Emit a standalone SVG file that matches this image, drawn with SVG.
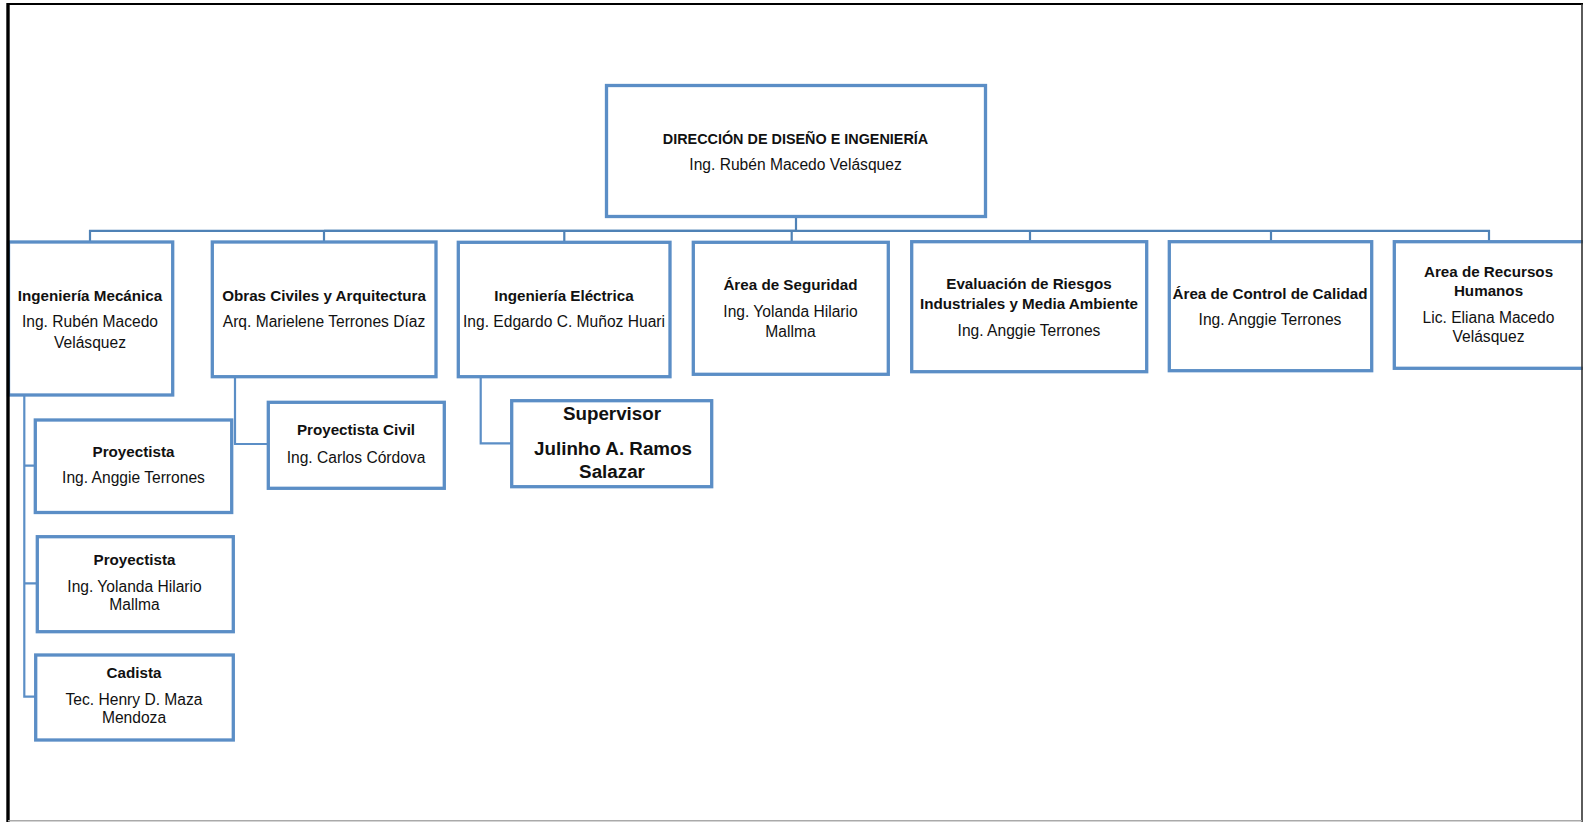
<svg xmlns="http://www.w3.org/2000/svg" width="1583" height="822" viewBox="0 0 1583 822">
<defs>
<style>
.box{fill:#fff;stroke:#5B8EC6;stroke-width:3.3}
.con{fill:none;stroke:#4F82B6;stroke-width:2.2}
.conl{fill:none;stroke:#5B8EC6;stroke-width:2.2}
text{font-family:"Liberation Sans",Arial,sans-serif;fill:#111;text-anchor:middle}
.b{font-weight:bold;font-size:15.2px}
.r{font-size:15.6px}
.t{font-weight:bold;font-size:14.4px}
.s{font-weight:bold;font-size:18.8px}
</style>
</defs>
<rect x="0" y="0" width="1583" height="822" fill="#fff"/>
<g id="connectors">
<path class="con" d="M90 241 V230.8 H1489 V241"/>
<path class="con" d="M324 230.8 H796" stroke-width="3.5"/>
<path class="con" d="M796 218 V231" stroke-width="3"/>
<path class="con" d="M324 230.8 V241 M564.3 230.8 V241 M791.7 230.8 V241 M1030 230.8 V241 M1271 230.8 V241"/>
<path class="conl" d="M24.3 396 V696.7 H35 M24.3 465.7 H35 M24.3 583.3 H37"/>
<path class="conl" d="M235 378 V444 H268"/>
<path class="conl" d="M480.7 378 V443.3 H511"/>
</g>
<g id="n-direccion">
<rect class="box" x="606.5" y="85.5" width="379" height="131"/>
<text class="t" x="795.5" y="144">DIRECCIÓN DE DISEÑO E INGENIERÍA</text>
<text class="r" x="795.5" y="170">Ing. Rubén Macedo Velásquez</text>
</g>
<g id="n-mecanica">
<rect class="box" x="8.5" y="242" width="164.2" height="153"/>
<text class="b" x="90" y="301">Ingeniería Mecánica</text>
<text class="r" x="90" y="327.3">Ing. Rubén Macedo</text>
<text class="r" x="90" y="347.7">Velásquez</text>
</g>
<g id="n-obras">
<rect class="box" x="212.3" y="242" width="223.7" height="134.7"/>
<text class="b" x="324" y="301">Obras Civiles y Arquitectura</text>
<text class="r" x="324" y="327.3">Arq. Marielene Terrones Díaz</text>
</g>
<g id="n-electrica">
<rect class="box" x="458.3" y="242.3" width="211.7" height="134.4"/>
<text class="b" x="564" y="301">Ingeniería Eléctrica</text>
<text class="r" x="564" y="327.3">Ing. Edgardo C. Muñoz Huari</text>
</g>
<g id="n-seguridad">
<rect class="box" x="693.3" y="242.3" width="195" height="132"/>
<text class="b" x="790.5" y="290">Área de Seguridad</text>
<text class="r" x="790.5" y="316.7">Ing. Yolanda Hilario</text>
<text class="r" x="790.5" y="336.7">Mallma</text>
</g>
<g id="n-evaluacion">
<rect class="box" x="911.7" y="241.7" width="235" height="130"/>
<text class="b" x="1029" y="289.3">Evaluación de Riesgos</text>
<text class="b" x="1029" y="309.3">Industriales y Media Ambiente</text>
<text class="r" x="1029" y="336">Ing. Anggie Terrones</text>
</g>
<g id="n-calidad">
<rect class="box" x="1169.3" y="241.7" width="202.4" height="129"/>
<text class="b" x="1270" y="299">Área de Control de Calidad</text>
<text class="r" x="1270" y="325">Ing. Anggie Terrones</text>
</g>
<g id="n-rrhh">
<rect class="box" x="1394.3" y="241.7" width="200" height="126.6"/>
<text class="b" x="1488.5" y="276.7">Area de Recursos</text>
<text class="b" x="1488.5" y="296">Humanos</text>
<text class="r" x="1488.5" y="323.3">Lic. Eliana Macedo</text>
<text class="r" x="1488.5" y="341.7">Velásquez</text>
</g>
<g id="n-proyectista1">
<rect class="box" x="35.3" y="420" width="196.4" height="92.5"/>
<text class="b" x="133.5" y="456.7">Proyectista</text>
<text class="r" x="133.5" y="483.3">Ing. Anggie Terrones</text>
</g>
<g id="n-proyectista-civil">
<rect class="box" x="268.3" y="402.3" width="176" height="86"/>
<text class="b" x="356" y="435">Proyectista Civil</text>
<text class="r" x="356" y="462.7">Ing. Carlos Córdova</text>
</g>
<g id="n-supervisor">
<rect class="box" x="511.7" y="400.7" width="200" height="86"/>
<text class="s" x="612" y="420">Supervisor</text>
<text class="s" x="613" y="455">Julinho A. Ramos</text>
<text class="s" x="612" y="478.3">Salazar</text>
</g>
<g id="n-proyectista2">
<rect class="box" x="37.3" y="536.7" width="196" height="95"/>
<text class="b" x="134.5" y="565">Proyectista</text>
<text class="r" x="134.5" y="591.7">Ing. Yolanda Hilario</text>
<text class="r" x="134.5" y="610">Mallma</text>
</g>
<g id="n-cadista">
<rect class="box" x="35.7" y="655" width="197.6" height="85"/>
<text class="b" x="134" y="678.3">Cadista</text>
<text class="r" x="134" y="705">Tec. Henry D. Maza</text>
<text class="r" x="134" y="723.3">Mendoza</text>
</g>
<g id="frame" fill="none">
<path d="M7 4 H1583" stroke="#000" stroke-width="2"/>
<path d="M8 3 V822" stroke="#000" stroke-width="3.4"/>
<path d="M1582 4 V822" stroke="#333" stroke-width="1.6"/>
<path d="M8 820.8 H1582" stroke="#aaa" stroke-width="1.4"/>
</g>
</svg>
